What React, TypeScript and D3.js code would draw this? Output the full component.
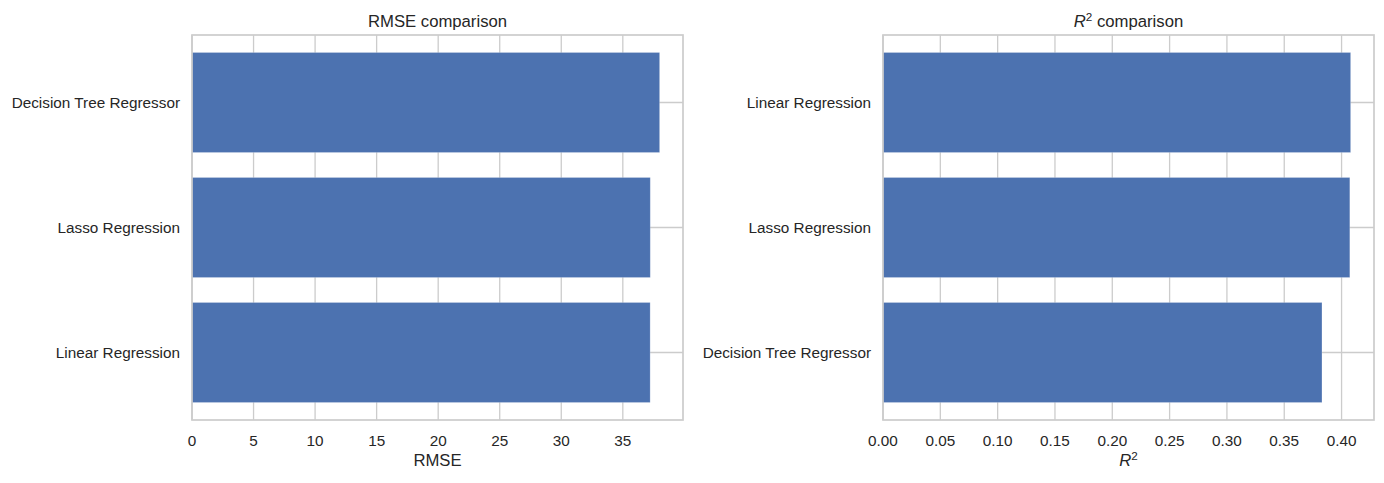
import * as d3 from "d3"

// left panel: RMSE, categories bottom -> top
const rmseModels = ["Linear Regression", "Lasso Regression", "Decision Tree Regressor"]
const rmseValues = [37.22, 37.23, 37.99]
const rmseTicks = [0, 5, 10, 15, 20, 25, 30, 35]

// right panel: R^2, categories bottom -> top
const r2Models = ["Decision Tree Regressor", "Lasso Regression", "Linear Regression"]
const r2Values = [0.3829, 0.4072, 0.4079]
const r2Ticks = [0, 0.05, 0.1, 0.15, 0.2, 0.25, 0.3, 0.35, 0.4]

const W = 1384
const H = 483
const top = 35
const bottom = 420
const textColor = "#262626"
const gridColor = "#cccccc"
const barColor = "#4c72b0"
const font = "'Liberation Sans', Arial, sans-serif"

type PanelProps = {
    left: number
    width: number
    models: string[]
    values: number[]
    ticks: number[]
    fmt: (v: number) => string
    title: React.ReactNode
    xlabel: React.ReactNode
}

function Panel({ left, width, models, values, ticks, fmt, title, xlabel }: PanelProps) {
    const right = left + width
    const maxV = d3.max(values) ?? 1
    const x = d3.scaleLinear().domain([0, maxV * 1.05]).range([left, right])
    // barh with height 0.8 and 5% margins
    const lo = -0.4
    const hi = models.length - 1 + 0.4
    const pad = (hi - lo) * 0.05
    const y = d3.scaleLinear().domain([lo - pad, hi + pad]).range([bottom, top])
    const barH = y(0) - y(0.8)
    const cx = (left + right) / 2

    return (
        <g fontFamily={font} fill={textColor}>
            {/* grid */}
            {ticks.map((t) => (
                <line key={"gx" + t} x1={x(t)} x2={x(t)} y1={top} y2={bottom} stroke={gridColor} strokeWidth={1.3} />
            ))}
            {models.map((m, i) => (
                <line key={"gy" + m} x1={left} x2={right} y1={y(i)} y2={y(i)} stroke={gridColor} strokeWidth={1.3} />
            ))}

            {/* bars */}
            {values.map((v, i) => (
                <rect
                    key={models[i]}
                    x={x(0)}
                    y={y(i) - barH / 2}
                    width={x(v) - x(0)}
                    height={barH}
                    fill={barColor}
                    stroke="#ffffff"
                    strokeOpacity={0.25}
                    strokeWidth={0.8}
                />
            ))}

            {/* spines */}
            <rect x={left} y={top} width={width} height={bottom - top} fill="none" stroke={gridColor} strokeWidth={1.7} />

            {/* tick labels */}
            {ticks.map((t) => (
                <text key={"tx" + t} x={x(t)} y={446} textAnchor="middle" fontSize={15.3}>
                    {fmt(t)}
                </text>
            ))}
            {models.map((m, i) => (
                <text key={"ty" + m} x={left - 12} y={y(i)} textAnchor="end" dominantBaseline="central" fontSize={15.3}>
                    {m}
                </text>
            ))}

            <text x={cx} y={27} textAnchor="middle" fontSize={16.7}>
                {title}
            </text>
            <text x={cx} y={466} textAnchor="middle" fontSize={16.7}>
                {xlabel}
            </text>
        </g>
    )
}

const R2 = () => (
    <>
        <tspan fontStyle="italic">R</tspan>
        <tspan fontSize={11.7} dy={-6}>2</tspan>
    </>
)

export default function App() {
    return (
        <svg width={W} height={H} style={{ position: "absolute", left: 0, top: 0, background: "#fff" }}>
            <rect width={W} height={H} fill="#fff" />
            <Panel
                left={192}
                width={491}
                models={rmseModels}
                values={rmseValues}
                ticks={rmseTicks}
                fmt={(v) => String(v)}
                title="RMSE comparison"
                xlabel="RMSE"
            />
            <Panel
                left={883}
                width={491}
                models={r2Models}
                values={r2Values}
                ticks={r2Ticks}
                fmt={d3.format(".2f")}
                title={
                    <>
                        <R2 />
                        <tspan dy={6}> comparison</tspan>
                    </>
                }
                xlabel={<R2 />}
            />
        </svg>
    )
}
